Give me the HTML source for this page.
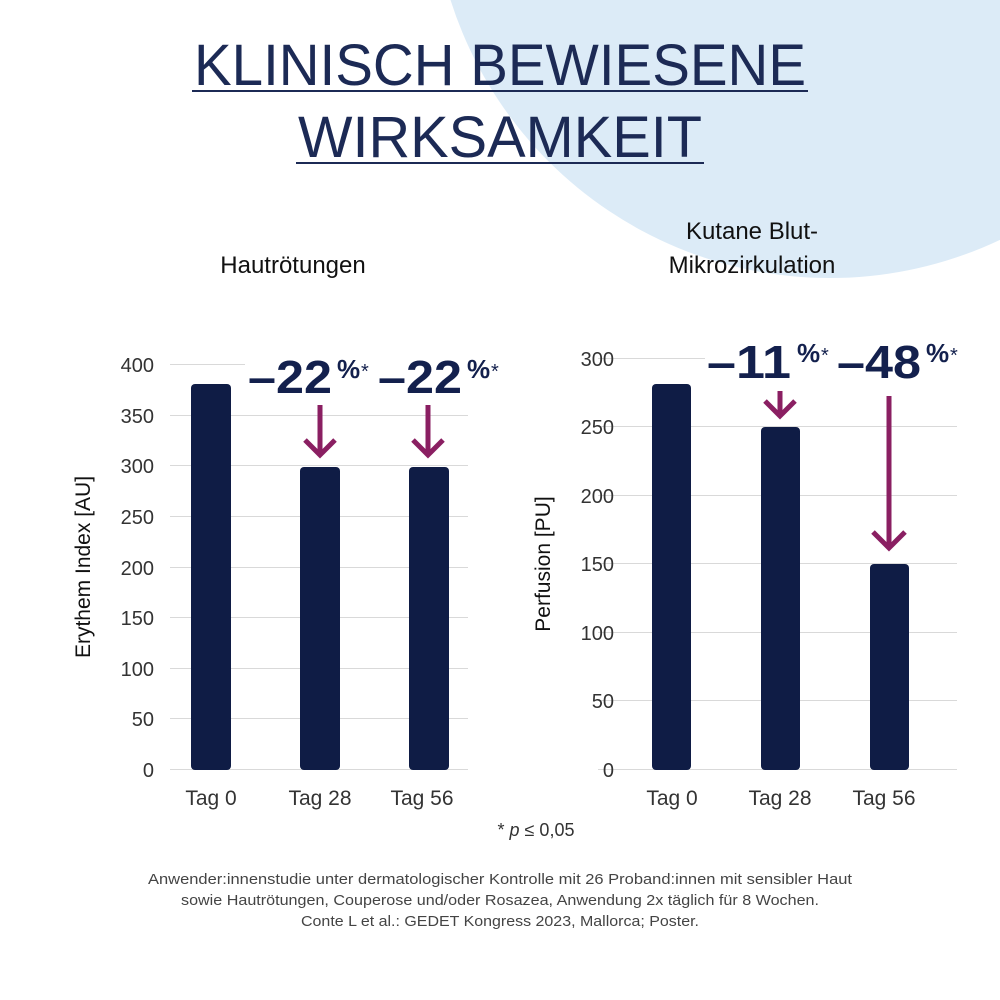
<!DOCTYPE html>
<html><head><meta charset="utf-8"><style>
body{margin:0;width:1000px;height:1000px;overflow:hidden;background:#fff;font-family:"Liberation Sans",sans-serif;}
</style></head><body>
<svg width="1000" height="1000" xmlns="http://www.w3.org/2000/svg" style="position:absolute;left:0;top:0" font-family="Liberation Sans, sans-serif">
<circle cx="830" cy="-120" r="398" fill="#dcebf7"/>
<g fill="#1c2a55" font-size="58" text-anchor="middle" font-weight="normal">
<text x="500" y="85" textLength="612" lengthAdjust="spacingAndGlyphs">KLINISCH BEWIESENE</text>
<text x="500" y="157" textLength="404" lengthAdjust="spacingAndGlyphs">WIRKSAMKEIT</text>
</g>
<rect x="192" y="90" width="616" height="2" fill="#1c2a55"/>
<rect x="296" y="162" width="408" height="2" fill="#1c2a55"/>
<g fill="#111" font-size="24" text-anchor="middle">
<text x="293" y="273">Hautrötungen</text>
<text x="752" y="239">Kutane Blut-</text>
<text x="752" y="273">Mikrozirkulation</text>
</g>
<!-- left chart -->
<g stroke="#d9d9d9" stroke-width="1">
<line x1="170" x2="245" y1="364.5" y2="364.5"/>
<line x1="170" x2="468" y1="415.5" y2="415.5"/>
<line x1="170" x2="468" y1="465.5" y2="465.5"/>
<line x1="170" x2="468" y1="516.5" y2="516.5"/>
<line x1="170" x2="468" y1="567.5" y2="567.5"/>
<line x1="170" x2="468" y1="617.5" y2="617.5"/>
<line x1="170" x2="468" y1="668.5" y2="668.5"/>
<line x1="170" x2="468" y1="718.5" y2="718.5"/>
<line x1="170" x2="468" y1="769.5" y2="769.5"/>
</g>
<g fill="#333" font-size="20" text-anchor="end">
<text x="154" y="372">400</text><text x="154" y="423">350</text><text x="154" y="473">300</text>
<text x="154" y="524">250</text><text x="154" y="575">200</text><text x="154" y="625">150</text>
<text x="154" y="676">100</text><text x="154" y="726">50</text><text x="154" y="777">0</text>
</g>
<text transform="translate(90,567) rotate(-90)" font-size="21" fill="#111" text-anchor="middle">Erythem Index [AU]</text>
<g fill="#0f1c45">
<rect x="191" y="384" width="40" height="386" rx="4"/>
<rect x="300" y="467" width="40" height="303" rx="4"/>
<rect x="409" y="467" width="40" height="303" rx="4"/>
</g>
<g fill="#333" font-size="21" text-anchor="middle">
<text x="211" y="805">Tag 0</text><text x="320" y="805">Tag 28</text><text x="422" y="805">Tag 56</text>
</g>
<!-- right chart -->
<g stroke="#d9d9d9" stroke-width="1">
<line x1="598" x2="705" y1="358.5" y2="358.5"/>
<line x1="598" x2="957" y1="426.5" y2="426.5"/>
<line x1="598" x2="957" y1="495.5" y2="495.5"/>
<line x1="598" x2="957" y1="563.5" y2="563.5"/>
<line x1="598" x2="957" y1="632.5" y2="632.5"/>
<line x1="598" x2="957" y1="700.5" y2="700.5"/>
<line x1="598" x2="957" y1="769.5" y2="769.5"/>
</g>
<g fill="#333" font-size="20" text-anchor="end">
<text x="614" y="366">300</text><text x="614" y="434">250</text><text x="614" y="503">200</text>
<text x="614" y="571">150</text><text x="614" y="640">100</text><text x="614" y="708">50</text><text x="614" y="777">0</text>
</g>
<text transform="translate(550,564) rotate(-90)" font-size="21" fill="#111" text-anchor="middle">Perfusion [PU]</text>
<g fill="#0f1c45">
<rect x="652" y="384" width="39" height="386" rx="4"/>
<rect x="761" y="427" width="39" height="343" rx="4"/>
<rect x="870" y="564" width="39" height="206" rx="4"/>
</g>
<g fill="#333" font-size="21" text-anchor="middle">
<text x="672" y="805">Tag 0</text><text x="780" y="805">Tag 28</text><text x="884" y="805">Tag 56</text>
</g>
<!-- annotations -->
<g fill="#13204d" font-weight="bold" font-size="46">
<text x="248" y="393" textLength="84" lengthAdjust="spacingAndGlyphs">–22</text>
<text x="378" y="393" textLength="84" lengthAdjust="spacingAndGlyphs">–22</text>
<text x="707" y="378" textLength="84" lengthAdjust="spacingAndGlyphs">–11</text>
<text x="837" y="378" textLength="84" lengthAdjust="spacingAndGlyphs">–48</text>
</g>
<g fill="#13204d" font-weight="bold" font-size="26">
<text x="337" y="378">%</text><text x="467" y="378">%</text>
<text x="797" y="362">%</text><text x="926" y="362">%</text>
</g>
<g fill="#13204d" font-size="20">
<text x="361" y="378">*</text><text x="491" y="378">*</text>
<text x="821" y="362">*</text><text x="950" y="362">*</text>
</g>
<g stroke="#8a1f62" stroke-width="5" fill="none" stroke-linecap="butt">
<line x1="320" y1="405" x2="320" y2="455"/><polyline points="305,440 320,455 335,440"/>
<line x1="428" y1="405" x2="428" y2="455"/><polyline points="413,440 428,455 443,440"/>
<line x1="780" y1="391" x2="780" y2="416"/><polyline points="765,401 780,416 795,401"/>
<line x1="889" y1="396" x2="889" y2="548"/><polyline points="873,532 889,548 905,532"/>
</g>
<text x="536" y="836" font-size="18" fill="#333" text-anchor="middle">* <tspan font-style="italic">p</tspan> ≤ 0,05</text>
<g fill="#444" font-size="15" text-anchor="middle">
<text x="500" y="884" textLength="704" lengthAdjust="spacingAndGlyphs">Anwender:innenstudie unter dermatologischer Kontrolle mit 26 Proband:innen mit sensibler Haut</text>
<text x="500" y="905" textLength="638" lengthAdjust="spacingAndGlyphs">sowie Hautrötungen, Couperose und/oder Rosazea, Anwendung 2x täglich für 8 Wochen.</text>
<text x="500" y="926" textLength="398" lengthAdjust="spacingAndGlyphs">Conte L et al.: GEDET Kongress 2023, Mallorca; Poster.</text>
</g>
</svg>
</body></html>
